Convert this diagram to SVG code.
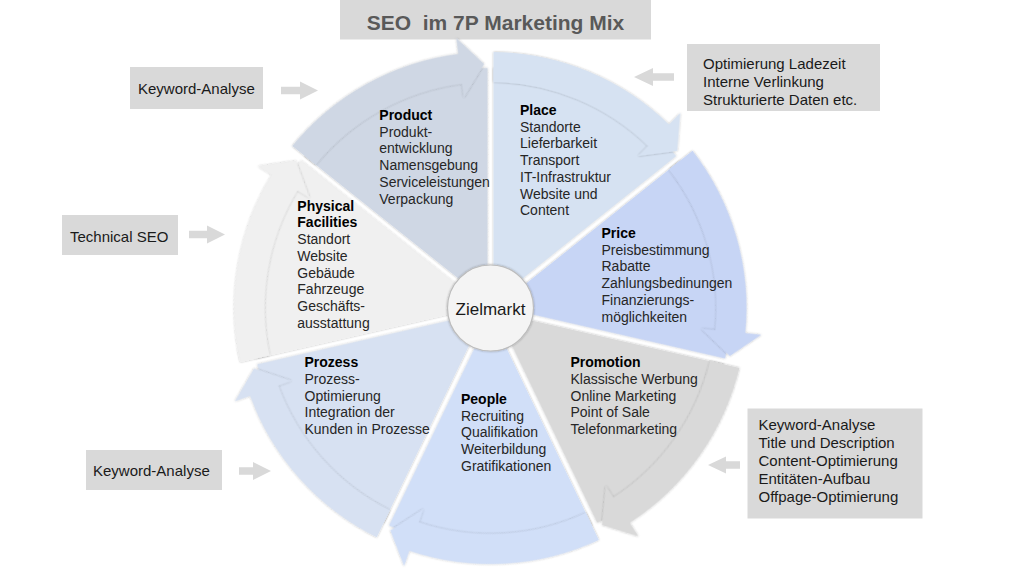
<svg xmlns="http://www.w3.org/2000/svg" width="1024" height="576" viewBox="0 0 1024 576">
<style>
.t{font-family:"Liberation Sans",Arial,sans-serif;font-size:14px;fill:#262626}
.b{font-weight:bold;fill:#000}
.bt{font-family:"Liberation Sans",Arial,sans-serif;font-size:15px;fill:#1a1a1a}
.box{fill:#d9d9d9}
.arr{fill:#d9d9d9}
.sh{filter:url(#sh)}
</style>
<defs>
<filter id="sh" x="-15%" y="-15%" width="130%" height="130%">
<feDropShadow dx="0" dy="0" stdDeviation="1.3" flood-color="#000" flood-opacity="0.32"/>
</filter>
<path id="wedge" d="M39.89 3 L239.98 3 A240 240 0 0 1 151.97 185.75 L27.22 29.32 Z"/>
<path id="band" d="M255.98 3 A256 256 0 0 1 183.53 178.48 L195 189.63 L157.07 186.72 L151.99 147.8 L162.02 157.56 A226 226 0 0 0 225.98 3 Z"/>
</defs>
<rect width="1024" height="576" fill="#fff"/>

<g id="title">
<rect class="box" x="340" y="0" width="311" height="39.5"/>
<text x="495.5" y="30" text-anchor="middle" xml:space="preserve" style="font-family:'Liberation Sans',Arial,sans-serif;font-size:21px;font-weight:bold;fill:#595959">SEO  im 7P Marketing Mix</text>
</g>

<g id="seg-place">
<g transform="translate(490.5 308) rotate(-90)" fill="#d6e2f2">
<use href="#wedge" class="sh"/><use href="#band" class="sh"/>
</g>
<text class="t" x="520" y="115"><tspan class="b">Place</tspan><tspan x="520" dy="16.7">Standorte</tspan><tspan x="520" dy="16.7">Lieferbarkeit</tspan><tspan x="520" dy="16.7">Transport</tspan><tspan x="520" dy="16.7">IT-Infrastruktur</tspan><tspan x="520" dy="16.7">Website und</tspan><tspan x="520" dy="16.7">Content</tspan></text>
</g>

<g id="seg-price">
<g transform="translate(490.5 308) rotate(-38.571)" fill="#c7d5f5">
<use href="#wedge" class="sh"/><use href="#band" class="sh"/>
</g>
<text class="t" x="601.5" y="238"><tspan class="b">Price</tspan><tspan x="601.5" dy="16.7">Preisbestimmung</tspan><tspan x="601.5" dy="16.7">Rabatte</tspan><tspan x="601.5" dy="16.7">Zahlungsbedinungen</tspan><tspan x="601.5" dy="16.7">Finanzierungs-</tspan><tspan x="601.5" dy="16.7">möglichkeiten</tspan></text>
</g>

<g id="seg-promotion">
<g transform="translate(490.5 308) rotate(12.857)" fill="#d9d9d9">
<use href="#wedge" class="sh"/><use href="#band" class="sh"/>
</g>
<text class="t" x="570.5" y="367.3"><tspan class="b">Promotion</tspan><tspan x="570.5" dy="16.7">Klassische Werbung</tspan><tspan x="570.5" dy="16.7">Online Marketing</tspan><tspan x="570.5" dy="16.7">Point of Sale</tspan><tspan x="570.5" dy="16.7">Telefonmarketing</tspan></text>
</g>

<g id="seg-people">
<g transform="translate(490.5 308) rotate(64.286)" fill="#d1dff8">
<use href="#wedge" class="sh"/><use href="#band" class="sh"/>
</g>
<text class="t" x="461" y="404"><tspan class="b">People</tspan><tspan x="461" dy="16.7">Recruiting</tspan><tspan x="461" dy="16.7">Qualifikation</tspan><tspan x="461" dy="16.7">Weiterbildung</tspan><tspan x="461" dy="16.7">Gratifikationen</tspan></text>
</g>

<g id="seg-prozess">
<g transform="translate(490.5 308) rotate(115.714)" fill="#d7e1f2">
<use href="#wedge" class="sh"/><use href="#band" class="sh"/>
</g>
<text class="t" x="304.5" y="367.3"><tspan class="b">Prozess</tspan><tspan x="304.5" dy="16.7">Prozess-</tspan><tspan x="304.5" dy="16.7">Optimierung</tspan><tspan x="304.5" dy="16.7">Integration der</tspan><tspan x="304.5" dy="16.7">Kunden in Prozesse</tspan></text>
</g>

<g id="seg-physical">
<g transform="translate(490.5 308) rotate(167.143)" fill="#f0f0f0">
<use href="#wedge" class="sh"/><use href="#band" class="sh"/>
</g>
<text class="t" x="297.3" y="210.7"><tspan class="b">Physical</tspan><tspan class="b" x="297.3" dy="16.7">Facilities</tspan><tspan x="297.3" dy="16.7">Standort</tspan><tspan x="297.3" dy="16.7">Website</tspan><tspan x="297.3" dy="16.7">Gebäude</tspan><tspan x="297.3" dy="16.7">Fahrzeuge</tspan><tspan x="297.3" dy="16.7">Geschäfts-</tspan><tspan x="297.3" dy="16.7">ausstattung</tspan></text>
</g>

<g id="seg-product">
<g transform="translate(490.5 308) rotate(218.571)" fill="#cfd7e4">
<use href="#wedge" class="sh"/><use href="#band" class="sh"/>
</g>
<text class="t" x="379.3" y="120"><tspan class="b">Product</tspan><tspan x="379.3" dy="16.7">Produkt-</tspan><tspan x="379.3" dy="16.7">entwicklung</tspan><tspan x="379.3" dy="16.7">Namensgebung</tspan><tspan x="379.3" dy="16.7">Serviceleistungen</tspan><tspan x="379.3" dy="16.7">Verpackung</tspan></text>
</g>

<g id="zielmarkt">
<circle cx="490.5" cy="308" r="43" fill="#f4f4f4" stroke="#bdbdbd" stroke-width="1.2" class="sh"/>
<text x="490.5" y="314.5" text-anchor="middle" style="font-family:'Liberation Sans',Arial,sans-serif;font-size:17px;fill:#1a1a1a">Zielmarkt</text>
</g>

<g id="box-keyword-top">
<rect class="box" x="130" y="67" width="133" height="42"/>
<text class="bt" x="138" y="93.5">Keyword-Analyse</text>
</g>
<g id="box-technical">
<rect class="box" x="62" y="215" width="116" height="40"/>
<text class="bt" x="70" y="241.5">Technical SEO</text>
</g>
<g id="box-keyword-bottom">
<rect class="box" x="86" y="450" width="136" height="40"/>
<text class="bt" x="93" y="475.5">Keyword-Analyse</text>
</g>
<g id="box-onpage-tech">
<rect class="box" x="687" y="44" width="193" height="67"/>
<text class="bt" x="703" y="68.5"><tspan>Optimierung Ladezeit</tspan><tspan x="703" dy="18">Interne Verlinkung</tspan><tspan x="703" dy="18">Strukturierte Daten etc.</tspan></text>
</g>
<g id="box-content">
<rect class="box" x="747.5" y="408.5" width="175" height="110"/>
<text class="bt" x="758.5" y="429.5"><tspan>Keyword-Analyse</tspan><tspan x="758.5" dy="18.1">Title und Description</tspan><tspan x="758.5" dy="18.1">Content-Optimierung</tspan><tspan x="758.5" dy="18.1">Entitäten-Aufbau</tspan><tspan x="758.5" dy="18.1">Offpage-Optimierung</tspan></text>
</g>

<g id="connectors">
<path class="arr" d="M281 86.75 H300 V81.5 L318 90.5 L300 99.5 V94.25 H281 Z"/>
<path class="arr" d="M189 230.75 H207 V225.5 L225 234.5 L207 243.5 V238.25 H189 Z"/>
<path class="arr" d="M239 467.25 H253 V462 L271 471 L253 480 V474.75 H239 Z"/>
<path class="arr" d="M674 73.25 H653 V68 L634 77 L653 86 V80.75 H674 Z"/>
<path class="arr" d="M740 461.25 H726 V456.5 L708 465 L726 473.5 V468.75 H740 Z"/>
</g>
</svg>
